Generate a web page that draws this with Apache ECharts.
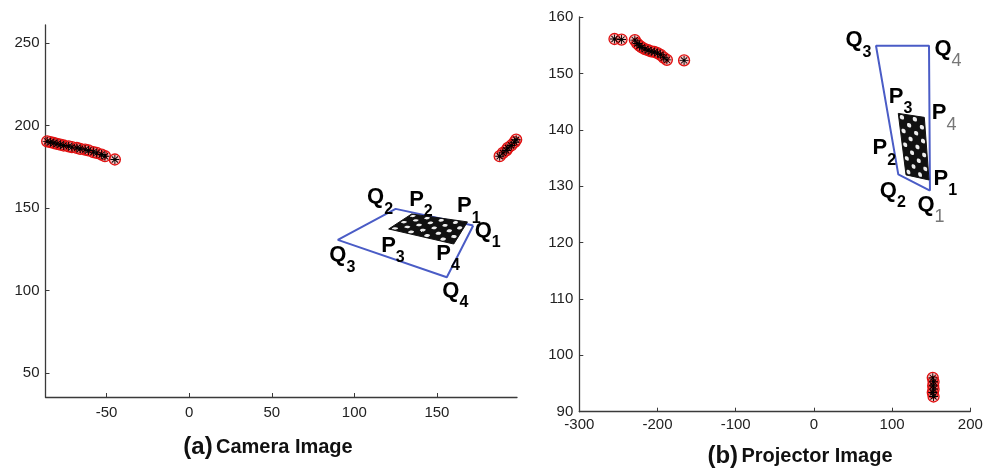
<!DOCTYPE html>
<html>
<head>
<meta charset="utf-8">
<script src="https://cdn.jsdelivr.net/npm/echarts@6/dist/echarts.min.js"></script>
<style>
  html, body { margin: 0; padding: 0; background: #fff; }
  #main { width: 997px; height: 472px; }
</style>
</head>
<body>
<div id="main"></div>
<script type="text/javascript">
  // (a) camera image: detected points
  var camLeftPts = [[-86,190.5],[-84,190],[-82,189.5],[-80,189],[-78,188.5],[-76,188],[-73,187.5],[-71,187],
    [-68,186.5],[-66,186],[-63,185.5],[-61,185],[-58,184],[-56,183.5],[-53,182.5],[-51,181.5],[-45,179.5]];
  var camRightPts = [[188,181.5],[190,183.5],[192,185],[193,186.5],[195,188],[197,190],[198,191.5]];
  // Q1..Q4 and P1..P4 corners
  var camQ = [[172,139.5],[125,149.6],[90,130.8],[156,108.2]];
  var camP = [[168.5,141.7],[134.7,146.5],[120.8,137.4],[160.2,128.3]];

  // (b) projector image
  var projTopPts = [[-255,156.1],[-246,156],[-229,155.9],[-226,155.3],[-223,154.9],[-220,154.6],[-216,154.3],
    [-212,154.1],[-208,153.9],[-204,153.8],[-200,153.6],[-196,153.3],[-192,152.8],[-188,152.4],[-166,152.3]];
  var projBottomPts = [[152,96],[153,95.3],[152.5,94.6],[153,94],[152,93.4],[153,92.7]];
  var projQ = [[148.4,129.2],[107.9,132.1],[79.4,154.9],[147.2,154.9]];
  var projP = [[147.2,131.1],[117.8,132.0],[107.9,142.9],[141.2,142.2]];

  var camXTicks = [-50, 0, 50, 100, 150];
  var camYTicks = [50, 100, 150, 200, 250];

  var FONT = 'Liberation Sans';
  var starPath = 'path://M4.5,0h1v10h-1z M0,4.5h10v1h-10z M1.2,1.9l0.7,-0.7l6.9,6.9l-0.7,0.7z M8.1,1.2l0.7,0.7l-6.9,6.9l-0.7,-0.7z';

  // label offsets (px, top-left of the label box from the corner)
  var camLabelOff = {
    Q1: [2, -5], Q2: [-28, -22], Q3: [-8, 5], Q4: [-4, 3],
    P1: [-10, -26], P2: [-2, -25], P3: [-7, 6], P4: [-17, -1]
  };
  var projLabelOff = {
    Q1: [-12, 4], Q2: [-18, 6], Q3: [-30, -16], Q4: [6, -7],
    P1: [5, -12], P2: [-33, -37], P3: [-9, -27], P4: [8, -15]
  };
  var projGraySub = { Q1: true, Q4: true, P4: true };

  var richLab = {
    m: { fontSize: 22, fontWeight: 'bold', lineHeight: 22, verticalAlign: 'top', color: '#000', fontFamily: FONT },
    s: { fontSize: 16, fontWeight: 'bold', lineHeight: 16, padding: [15, 0, 0, 0], verticalAlign: 'top', color: '#000', fontFamily: FONT },
    g: { fontSize: 18, fontWeight: 'normal', lineHeight: 18, padding: [14, 0, 0, 0], verticalAlign: 'top', color: '#777', fontFamily: FONT }
  };

  function labelItems(Q, P, offs, gray) {
    var out = [];
    Q.forEach(function (p, i) { out.push({ name: 'Q' + (i + 1), value: p }); });
    P.forEach(function (p, i) { out.push({ name: 'P' + (i + 1), value: p }); });
    out.forEach(function (d) {
      var sub = gray && gray[d.name] ? 'g' : 's';
      d.label = {
        offset: offs[d.name],
        formatter: '{m|' + d.name.charAt(0) + '}{' + sub + '|' + d.name.charAt(1) + '}'
      };
    });
    return out;
  }

  function pointSeries(data, idx) {
    return [{
      type: 'scatter', xAxisIndex: idx, yAxisIndex: idx, data: data,
      symbol: 'circle', symbolSize: 11,
      itemStyle: { color: 'rgba(235,40,40,0.3)', borderColor: '#e01010', borderWidth: 1.3, opacity: 1 },
      z: 3
    }, {
      type: 'scatter', xAxisIndex: idx, yAxisIndex: idx, data: data,
      symbol: starPath, symbolSize: 9,
      itemStyle: { color: '#000', opacity: 1 },
      z: 4
    }];
  }

  function quadSeries(Q, idx) {
    return {
      type: 'line', xAxisIndex: idx, yAxisIndex: idx,
      data: Q.concat([Q[0]]),
      symbol: 'none',
      lineStyle: { color: '#4a5cc6', width: 2 },
      z: 2
    };
  }

  // checkerboard between corners P1..P4 (edges P2->P1 and P3->P4)
  function boardSeries(P, idx, cols, rows) {
    return {
      type: 'custom', xAxisIndex: idx, yAxisIndex: idx,
      data: [[P[0][0], P[0][1], P[1][0], P[1][1], P[2][0], P[2][1], P[3][0], P[3][1]]],
      encode: { x: [0, 2, 4, 6], y: [1, 3, 5, 7] },
      renderItem: function (params, api) {
        var c = [];
        for (var k = 0; k < 4; k++) c.push(api.coord([api.value(2 * k), api.value(2 * k + 1)]));
        var p1 = c[0], p2 = c[1], p3 = c[2], p4 = c[3];
        function at(u, v) {
          var ax = p2[0] + (p1[0] - p2[0]) * u, ay = p2[1] + (p1[1] - p2[1]) * u;
          var bx = p3[0] + (p4[0] - p3[0]) * u, by = p3[1] + (p4[1] - p3[1]) * u;
          return [ax + (bx - ax) * v, ay + (by - ay) * v];
        }
        var children = [{
          type: 'polygon', shape: { points: [p2, p1, p4, p3] },
          style: { fill: '#111', stroke: '#111', lineWidth: 1 }
        }];
        for (var i = 0; i < cols; i++) {
          for (var j = 0; j < rows; j++) {
            if ((i + j) % 2) continue;
            var m = 0.25;
            var pts = [at((i + m) / cols, (j + m) / rows), at((i + 1 - m) / cols, (j + m) / rows),
              at((i + 1 - m) / cols, (j + 1 - m) / rows), at((i + m) / cols, (j + 1 - m) / rows)];
            children.push({ type: 'polygon', shape: { points: pts, smooth: 0.4 }, style: { fill: '#eee' } });
          }
        }
        return { type: 'group', children: children };
      },
      z: 5
    };
  }

  function labelSeries(Q, P, offs, gray, idx) {
    return {
      type: 'scatter', xAxisIndex: idx, yAxisIndex: idx,
      data: labelItems(Q, P, offs, gray),
      symbolSize: 1,
      itemStyle: { color: 'transparent', opacity: 1 },
      label: {
        show: true, position: [0, 0], align: 'left', verticalAlign: 'top',
        color: '#000', fontFamily: FONT, opacity: 1, rich: richLab
      },
      z: 10
    };
  }

  var axisCommon = {
    axisLine: { onZero: false, lineStyle: { color: '#3a3a3a', width: 1.3 } },
    axisTick: { inside: true, length: 4, lineStyle: { color: '#3a3a3a' } },
    splitLine: { show: false },
    axisLabel: { color: '#222', fontSize: 15, fontFamily: FONT }
  };

  var chart = echarts.init(document.getElementById('main'));
  var option = {
    animation: false,
    backgroundColor: '#fff',
    grid: [
      { left: 45.5, top: 25, width: 471.5, height: 372 },
      { left: 579.3, top: 17, width: 391, height: 394.7 }
    ],
    xAxis: [
      echarts.util.merge({
        type: 'value', gridIndex: 0, min: -87, max: 198.5,
        axisTick: { customValues: camXTicks },
        axisLabel: { customValues: camXTicks, margin: 8 }
      }, axisCommon),
      echarts.util.merge({
        type: 'value', gridIndex: 1, min: -300, max: 200, interval: 100,
        axisLabel: { margin: 6 }
      }, axisCommon)
    ],
    yAxis: [
      echarts.util.merge({
        type: 'value', gridIndex: 0, min: 35.6, max: 261,
        axisTick: { customValues: camYTicks },
        axisLabel: { customValues: camYTicks, margin: 6 }
      }, axisCommon),
      echarts.util.merge({
        type: 'value', gridIndex: 1, min: 90, max: 160, interval: 10,
        axisLabel: { margin: 6 }
      }, axisCommon)
    ],
    series: [].concat(
      pointSeries(camLeftPts, 0), pointSeries(camRightPts, 0),
      [quadSeries(camQ, 0), boardSeries(camP, 0, 8, 5), labelSeries(camQ, camP, camLabelOff, null, 0)],
      pointSeries(projTopPts, 1), pointSeries(projBottomPts, 1),
      [quadSeries(projQ, 1), boardSeries(projP, 1, 4, 9), labelSeries(projQ, projP, projLabelOff, projGraySub, 1)]
    ),
    graphic: [
      {
        type: 'text', x: 268, y: 447,
        style: {
          text: '{a|(a)} {b|Camera Image}', align: 'center', verticalAlign: 'middle',
          rich: {
            a: { fontSize: 24, fontWeight: 'bold', fontFamily: FONT, fill: '#111' },
            b: { fontSize: 20, fontWeight: 'bold', fontFamily: FONT, fill: '#111' }
          }
        }
      },
      {
        type: 'text', x: 800, y: 456,
        style: {
          text: '{a|(b)} {b|Projector Image}', align: 'center', verticalAlign: 'middle',
          rich: {
            a: { fontSize: 24, fontWeight: 'bold', fontFamily: FONT, fill: '#111' },
            b: { fontSize: 20, fontWeight: 'bold', fontFamily: FONT, fill: '#111' }
          }
        }
      }
    ]
  };
  chart.setOption(option);
</script>
</body>
</html>
